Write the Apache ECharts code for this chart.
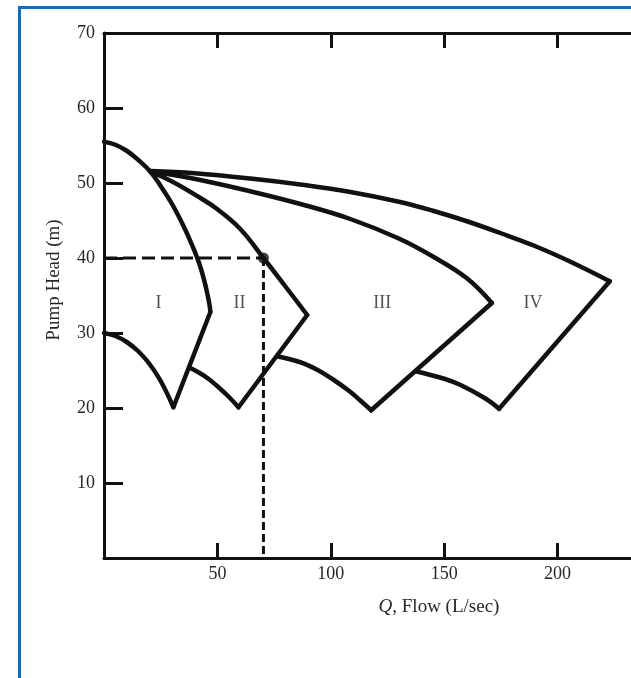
<!DOCTYPE html>
<html>
<head>
<meta charset="utf-8">
<script src="https://cdn.jsdelivr.net/npm/echarts@6/dist/echarts.min.js"></script>
<style>
  html, body { margin: 0; padding: 0; background: #fff; }
  #chart { width: 631px; height: 678px; }
</style>
</head>
<body>
<div id="chart"></div>
<script>
// pump curves: [Q L/sec, head m]
const curveIUpper = [[0, 55.5], [5, 55.1], [10, 54.3], [15, 53.1], [20.5, 51.5], [25, 49.6], [30, 47.2], [35, 44.3], [39, 41.6], [42.5, 38.8], [45, 36.0], [46.5, 33.8], [46.9, 32.8]];
const edgeI = [[46.9, 32.8], [30.6, 20.1]];
const curveILower = [[0, 30], [5, 29.6], [10, 28.8], [15, 27.6], [20, 25.9], [25, 23.6], [30.6, 20.1]];

const curveIIUpper = [[20.5, 51.5], [30, 50.2], [42.5, 48.0], [50, 46.5], [60, 43.9], [70.3, 40], [80, 36.2], [89.6, 32.4]];
const edgeII = [[89.6, 32.4], [59.3, 20.1]];
const curveIILower = [[37.6, 25.4], [42, 24.7], [46, 23.9], [50, 22.9], [55, 21.5], [59.3, 20.1]];

const curveIIIUpper = [[20.5, 51.5], [30, 51.1], [42.5, 50.4], [64.5, 48.9], [86.6, 47.2], [108.6, 45.2], [130, 42.6], [145, 40.2], [160, 37.3], [171, 34.0]];
const edgeIII = [[171, 34.0], [117.8, 19.7]];
const curveIIILower = [[76.3, 26.9], [86.6, 26.1], [94, 25.1], [101, 23.8], [108, 22.3], [113, 21.0], [117.8, 19.7]];

const curveIVUpper = [[20.5, 51.6], [40, 51.3], [64.5, 50.6], [86.6, 49.8], [108.6, 48.8], [130, 47.5], [145, 46.3], [160, 44.9], [175, 43.3], [190, 41.6], [205, 39.6], [223, 36.9]];
const edgeIV = [[223, 36.9], [174.2, 19.9]];
const curveIVLower = [[137.5, 24.9], [150, 23.9], [157, 23.1], [168, 21.3], [174.2, 19.9]];

// operating point and its guide lines
const operatingPoint = [70.3, 40];
const guideH = [[0, 40], [70.3, 40]];
const guideV = [[70.3, 40], [70.3, 0]];

// region labels
const regionNames = ['I', 'II', 'III', 'IV'];
const regionQ = [24, 59.7, 122.7, 189.2];
const regionHead = [34, 34, 34, 34];

const xTicks = [50, 100, 150, 200];
const yTicks = [10, 20, 30, 40, 50, 60, 70];

const ink = '#111';
const textColor = '#262626';
const serif = '"Liberation Serif", "DejaVu Serif", serif';

let myChart = echarts.init(document.getElementById('chart'));

function curve(data, smooth) {
    return {
        type: 'line',
        data: data,
        smooth: smooth ? 0.4 : false,
        symbol: 'none',
        silent: true,
        lineStyle: { color: ink, width: 4.5, cap: 'round', join: 'round' },
        z: 3
    };
}

function guide(data, dash) {
    return {
        type: 'line',
        data: data,
        symbol: 'none',
        silent: true,
        lineStyle: { color: ink, width: 3, type: dash },
        z: 2
    };
}

const labelData = regionNames.map((n, i) => ({ name: n, value: [regionQ[i], regionHead[i]] }));

myChart.setOption({
    animation: false,
    backgroundColor: '#fff',
    grid: { left: 104, top: 33, width: 567, height: 525, outerBoundsMode: 'none', containLabel: false },
    xAxis: [{
        type: 'value',
        position: 'bottom',
        min: 0, max: 250, interval: 50,
        axisLine: { show: true, lineStyle: { color: ink, width: 3 } },
        axisTick: { show: true, inside: true, length: 15, lineStyle: { color: ink, width: 3 } },
        axisLabel: {
            margin: 7,
            fontSize: 18, fontFamily: serif, color: textColor,
            formatter: v => (xTicks.indexOf(v) >= 0 ? String(v) : '')
        },
        splitLine: { show: false }
    }, {
        type: 'value',
        position: 'top',
        min: 0, max: 250, interval: 50,
        axisLine: { show: true, lineStyle: { color: ink, width: 3 } },
        axisTick: { show: true, inside: true, length: 15, lineStyle: { color: ink, width: 3 } },
        axisLabel: { show: false },
        splitLine: { show: false }
    }],
    yAxis: {
        type: 'value',
        min: 0, max: 70, interval: 10,
        axisLine: { show: true, lineStyle: { color: ink, width: 3 } },
        axisTick: { show: true, inside: true, length: 19, lineStyle: { color: ink, width: 3 } },
        axisLabel: {
            margin: 9,
            fontSize: 18, fontFamily: serif, color: textColor,
            formatter: v => (yTicks.indexOf(v) >= 0 ? String(v) : '')
        },
        splitLine: { show: false }
    },
    graphic: [{
        type: 'rect',
        shape: { x: 19.5, y: 7.5, width: 800, height: 800 },
        style: { fill: 'none', stroke: '#0a6ec4', lineWidth: 3 },
        silent: true
    }, {
        type: 'text',
        x: 54, y: 280,
        rotation: Math.PI / 2,
        style: {
            text: 'Pump Head (m)',
            font: '19px ' + serif,
            fill: textColor,
            align: 'center', verticalAlign: 'middle'
        },
        silent: true
    }, {
        type: 'text',
        x: 439, y: 607,
        style: {
            text: '{i|Q}, Flow (L/sec)',
            font: '19px ' + serif,
            fill: textColor,
            align: 'center', verticalAlign: 'middle',
            rich: { i: { fontStyle: 'italic', fontSize: 19, fontFamily: serif, fill: textColor } }
        },
        silent: true
    }],
    series: [
        curve(curveIUpper, true), curve(edgeI, false), curve(curveILower, true),
        curve(curveIIUpper, true), curve(edgeII, false), curve(curveIILower, true),
        curve(curveIIIUpper, true), curve(edgeIII, false), curve(curveIIILower, true),
        curve(curveIVUpper, true), curve(edgeIV, false), curve(curveIVLower, true),
        guide(guideH, [13, 6]),
        guide(guideV, [8, 4]),
        {
            type: 'scatter',
            data: [operatingPoint],
            symbol: 'circle',
            symbolSize: 11,
            itemStyle: { color: ink },
            silent: true,
            z: 4
        },
        {
            type: 'scatter',
            data: labelData,
            symbolSize: 0,
            silent: true,
            label: {
                show: true,
                position: 'inside',
                formatter: '{b}',
                fontSize: 18, fontFamily: serif, color: textColor
            }
        }
    ]
});

window.onresize = function () {
    myChart.resize();
};
</script>
</body>
</html>
